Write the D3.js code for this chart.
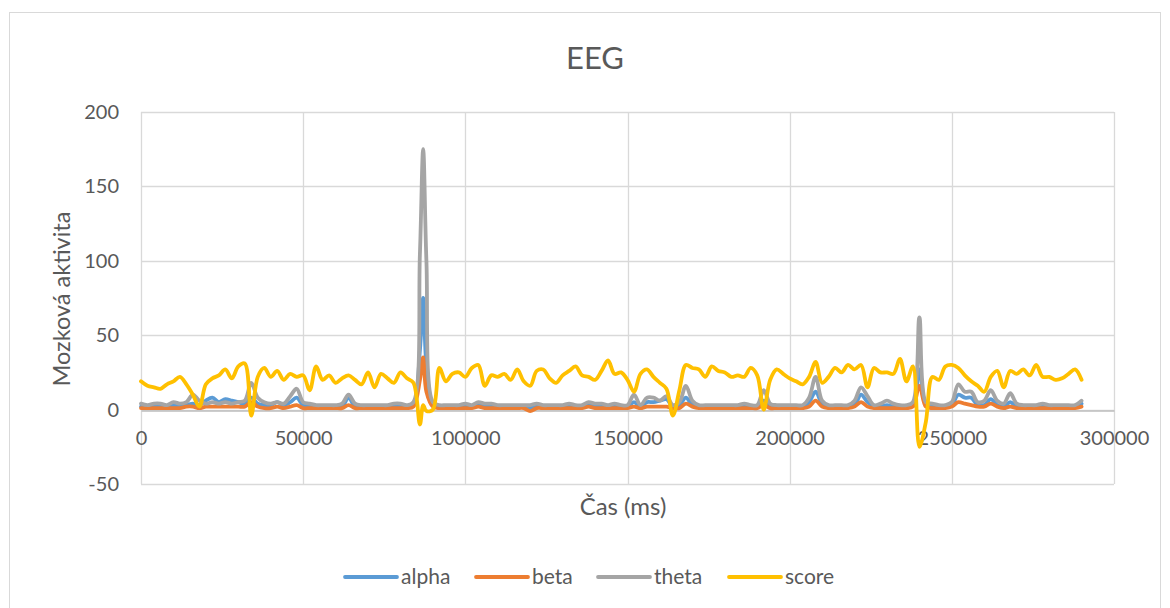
<!DOCTYPE html>
<html>
<head>
<meta charset="utf-8">
<script src="https://cdn.jsdelivr.net/npm/d3@7"></script>
<style>
  body { margin: 0; background: #fff; }
  text { font-family: Lato, "Open Sans", sans-serif; fill: #595959; }
</style>
</head>
<body>
<script>
// samples every 2000 ms, 0 .. 290000, plus the spike sample at 87000
var times = d3.range(0, 86001, 2000).concat([87000], d3.range(88000, 290001, 2000));

var alpha = [2,2,2,2,2,3,3,3,4,3, 6,8,5,7,6,5,4,8,4,3, 3,5,3,5,8,3,2,2,2,2,
  2,2,8,2,2,2,2,2,2,2, 2,2,3,40,75,30,3,2,2,2,2, 2,2,3,2,2,2,2,2,2,2,
  1,2,2,2,2,2,2,2,2,3, 2,2,1,2,2,2,5,2,5,5, 6,7,2,3,8,3,2,2,2,2,
  2,2,2,2,2,2,6,2,2,2, 2,2,2,5,12,4,2,2,2,2, 3,10,5,2,2,3,2,2,2,3,
  27,3,2,2,2,3,10,8,8,3, 3,7,3,2,5,2,2,2,2,2, 2,2,2,2,2,4];

var beta = [1,1,1,1,1,1,1,2,2,1, 2,2,2,2,2,2,2,5,2,1, 1,2,1,2,3,1,1,1,1,1,
  1,1,3,1,1,1,1,1,1,1, 1,1,2,20,35,12,2,1,1,1,1, 1,1,2,1,1,1,1,1,1,1,
  -1,1,1,1,1,1,1,1,1,2, 1,1,1,1,1,1,2,1,2,2, 2,2,1,1,4,2,1,1,1,1,
  1,1,1,1,1,1,3,1,1,1, 1,1,1,2,6,2,1,1,1,1, 2,5,2,1,1,1,1,1,1,2,
  16,2,1,1,1,2,5,4,3,2, 2,4,2,1,2,1,1,1,1,1, 1,1,1,1,1,2];

var theta = [4,3,4,4,3,5,4,5,10,6, 4,5,4,5,4,5,6,18,8,5, 4,5,4,9,14,5,4,3,3,3,
  3,4,10,4,3,3,3,3,3,4, 4,3,5,105,175,100,5,3,3,3,3, 4,3,5,4,4,3,3,3,3,3,
  3,4,3,3,3,3,4,3,3,5, 4,4,3,4,3,3,10,3,8,8, 6,9,3,5,16,6,3,3,3,3,
  3,3,3,4,3,3,13,4,3,3, 3,3,3,8,22,6,3,3,3,3, 6,15,9,3,4,6,4,3,3,5,
  62,5,4,3,3,5,17,12,12,5, 6,13,6,4,11,4,3,3,3,4, 3,3,3,3,3,6];

var score = [19,16,15,14,17,19,22,17,10,2, 17,21,23,27,21,29,31,-4,22,28,
  22,26,20,24,22,23,13,29,20,23, 18,21,23,20,17,25,15,24,21,18,
  25,21,18,-10,3,-1,0,28,19,24,25, 22,28,30,16,23,22,24,20,27,19,
  16,26,27,21,18,23,26,29,23,22, 20,26,33,24,25,20,12,24,27,22,
  18,14,-4,13,30,28,27,22,29,26, 25,22,23,22,28,23,0,20,27,24,
  21,19,17,22,32,18,22,28,25,30, 27,30,15,28,25,25,24,34,19,29,
  -25,-8,22,20,29,30,28,23,19,16, 12,22,26,15,26,24,27,23,30,22,
  22,20,21,24,27,20];

var seriesNames = ["alpha", "beta", "theta", "score"];
var seriesColors = ["#5B9BD5", "#ED7D31", "#A5A5A5", "#FFC000"];
var seriesData = [alpha, beta, theta, score];

var xTicks = [0, 50000, 100000, 150000, 200000, 250000, 300000];
var yTicks = [-50, 0, 50, 100, 150, 200];

var W = 1170, H = 608;
var plot = {left: 141, top: 112, right: 1114, bottom: 484};

var svg = d3.select("body").append("svg").attr("width", W).attr("height", H);

// chart border
svg.append("rect").attr("x", 9.5).attr("y", 12.5).attr("width", 1151).attr("height", 640)
  .attr("fill", "#fff").attr("stroke", "#d9d9d9");

var x = d3.scaleLinear().domain([0, 300000]).range([plot.left, plot.right]);
var y = d3.scaleLinear().domain([-50, 200]).range([plot.bottom, plot.top]);

// gridlines
svg.append("g").selectAll("line").data(yTicks).enter().append("line")
  .attr("x1", plot.left).attr("x2", plot.right)
  .attr("y1", function(d) { return Math.round(y(d)) + 0.5; })
  .attr("y2", function(d) { return Math.round(y(d)) + 0.5; })
  .attr("stroke", "#d9d9d9").attr("stroke-width", 1.3);
svg.append("g").selectAll("line").data(xTicks).enter().append("line")
  .attr("y1", plot.top).attr("y2", plot.bottom)
  .attr("x1", function(d) { return Math.round(x(d)) + 0.5; })
  .attr("x2", function(d) { return Math.round(x(d)) + 0.5; })
  .attr("stroke", "#d9d9d9").attr("stroke-width", 1.3);

// x axis crossing at 0
var xAxis = svg.append("g").attr("transform", "translate(0," + (Math.round(y(0)) + 0.5) + ")")
  .call(d3.axisBottom(x).tickValues(xTicks).tickSize(0).tickPadding(20).tickFormat(function(d) { return String(d); }));
xAxis.select(".domain").attr("stroke", "#bfbfbf").attr("stroke-width", 1.5);
xAxis.selectAll("text").attr("font-size", 20).style("fill", "#595959");

var yAxis = svg.append("g").attr("transform", "translate(" + plot.left + ",0)")
  .call(d3.axisLeft(y).tickValues(yTicks).tickSize(0).tickPadding(22).tickFormat(function(d) { return String(d); }));
yAxis.select(".domain").remove();
yAxis.selectAll("text").attr("font-size", 20).style("fill", "#595959");

// series
var line = d3.line()
  .x(function(d, i) { return x(times[i]); })
  .y(function(d) { return y(d); })
  .curve(d3.curveCatmullRom.alpha(0.5));

seriesData.forEach(function(s, k) {
  svg.append("path").datum(s).attr("d", line)
    .attr("fill", "none").attr("stroke", seriesColors[k])
    .attr("stroke-width", 3.8).attr("stroke-linejoin", "round").attr("stroke-linecap", "round");
});

// titles
svg.append("text").attr("x", 595).attr("y", 69).attr("text-anchor", "middle")
  .attr("font-size", 31).text("EEG");
svg.append("text").attr("x", 623).attr("y", 515).attr("text-anchor", "middle")
  .attr("font-size", 24).text("Čas (ms)");
svg.append("text").attr("transform", "translate(70,299) rotate(-90)").attr("text-anchor", "middle")
  .attr("font-size", 23.5).text("Mozková aktivita");

// legend
var legendX = [345, 476, 598, 729];
var legend = svg.append("g").selectAll("g").data(seriesNames).enter().append("g")
  .attr("transform", function(d, i) { return "translate(" + legendX[i] + ",577)"; });
legend.append("line").attr("x1", 0).attr("x2", 52).attr("y1", 0).attr("y2", 0)
  .attr("stroke", function(d, i) { return seriesColors[i]; }).attr("stroke-width", 3.8)
  .attr("stroke-linecap", "round");
legend.append("text").attr("x", 56).attr("y", 7).attr("font-size", 21).text(function(d) { return d; });
</script>
</body>
</html>
